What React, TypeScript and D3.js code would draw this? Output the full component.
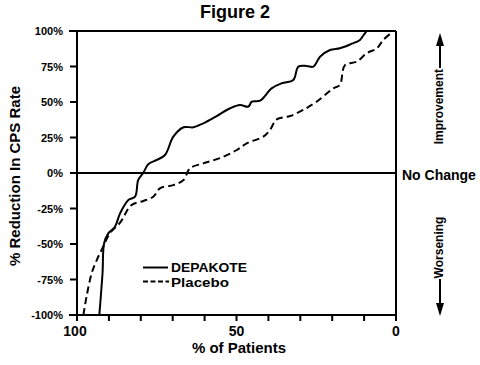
import React from "react";
import * as d3 from "d3";

// ---- Data ----
const yTicks = [100, 75, 50, 25, 0, -25, -50, -75, -100];
const xMinorTicks = [100, 90, 80, 70, 60, 50, 40, 30, 20, 10, 0];
const xLabels = [100, 50, 0];

const depakoteX = [93.0, 92.0, 91.5, 90.2, 88.1, 86.5, 83.9, 81.8, 80.8, 79.2, 77.6, 75.0, 72.4, 69.8, 66.6, 63.5, 60.4, 56.2, 52.0, 48.9, 46.3, 45.2, 42.6, 39.0, 35.8, 32.2, 30.6, 28.0, 25.9, 23.8, 20.7, 17.6, 14.4, 11.3, 10.2, 9.2];
const depakoteY = [-100, -70.6, -49.5, -42.5, -37.8, -28.4, -19, -16.7, -4.9, 0.2, 6.3, 9.2, 12.7, 25.6, 32.2, 32.2, 35, 40.1, 45.6, 47.9, 46.7, 50.2, 50.9, 59.6, 63.2, 65.5, 74.9, 75.4, 74.9, 81.9, 86.6, 87.8, 90.5, 93.7, 97, 100];

const placeboX = [98.0, 97.0, 95.4, 93.8, 91.8, 89.7, 86.5, 82.9, 79.2, 76.1, 74.0, 69.8, 66.6, 64.6, 60.4, 55.2, 49.9, 46.8, 41.6, 39.5, 37.4, 33.2, 29.1, 24.9, 19.6, 17.6, 16.0, 12.3, 9.2, 6.0, 4.0, 1.3];
const placeboY = [-100, -87, -70.6, -61.3, -51.9, -42.5, -35, -22.5, -19.7, -16.7, -10.8, -8.5, -4.9, 3.3, 6.8, 10.5, 16.2, 20.9, 25.6, 30.3, 37.8, 40.1, 44.4, 50.2, 59.6, 62, 76, 78.4, 84.3, 87.8, 93.7, 99];

const FONT = "'Liberation Sans', Arial, Helvetica, sans-serif";
const NARROW = "'Liberation Sans Narrow', 'Arial Narrow', 'Liberation Sans', Arial, sans-serif";

export default function App() {
  const W = 480, H = 365;
  const left = 77, right = 396, top = 31, bottom = 315;
  const x = d3.scaleLinear().domain([100, 0]).range([left, right]);
  const y = d3.scaleLinear().domain([-100, 100]).range([bottom, top]);

  const line = d3
    .line<[number, number]>()
    .x((d) => x(d[0]))
    .y((d) => y(d[1]))
    .curve(d3.curveCatmullRom.alpha(0.5));

  const dep: [number, number][] = depakoteX.map((v, i) => [v, depakoteY[i]]);
  const pla: [number, number][] = placeboX.map((v, i) => [v, placeboY[i]]);

  const fmt = (v: number) => `${v}%`;

  return (
    <svg
      width={W}
      height={H}
      style={{ position: "absolute", left: 0, top: 0, background: "#fff" }}
      fontFamily={FONT}
      fontWeight="bold"
    >
      <rect x={0} y={0} width={W} height={H} fill="#fff" />
      {/* Title */}
      <text x={235} y={18} fontSize={18} textAnchor="middle" fill="#000">
        Figure 2
      </text>

      {/* curves */}
      <path d={line(dep) || ""} fill="none" stroke="#000" strokeWidth={2} />
      <path d={line(pla) || ""} fill="none" stroke="#000" strokeWidth={2} strokeDasharray="7,4" />

      {/* frame */}
      <line x1={left - 8} x2={right} y1={top} y2={top} stroke="#000" strokeWidth={2} />
      <line x1={right} x2={right} y1={top} y2={bottom} stroke="#000" strokeWidth={2} />
      <line x1={left} x2={left} y1={top} y2={bottom} stroke="#000" strokeWidth={2} />
      <line x1={left - 8} x2={right + 1} y1={bottom} y2={bottom} stroke="#000" strokeWidth={2} />
      {/* zero line */}
      <line x1={left} x2={right} y1={y(0)} y2={y(0)} stroke="#000" strokeWidth={2} />

      {/* y ticks */}
      {yTicks.map((t) => (
        <g key={t}>
          <line x1={left - 7} x2={left} y1={y(t)} y2={y(t)} stroke="#000" strokeWidth={2} />
          <text x={63} y={y(t) + 4} fontSize={11} textAnchor="end" fill="#000">
            {fmt(t)}
          </text>
        </g>
      ))}

      {/* x ticks */}
      {xMinorTicks.map((t) => (
        <line key={t} x1={x(t)} x2={x(t)} y1={bottom} y2={bottom + 6} stroke="#000" strokeWidth={2} />
      ))}
      {xLabels.map((t) => (
        <text key={t} x={x(t) - (t === 100 ? 2 : 0)} y={336} fontSize={14} fontFamily={NARROW} textAnchor="middle" fill="#000">
          {t}
        </text>
      ))}
      <text x={239} y={353} fontSize={15} textAnchor="middle" fill="#000">
        % of Patients
      </text>

      {/* y axis title */}
      <text transform="translate(20,176) rotate(-90)" fontSize={15} textAnchor="middle" fill="#000">
        % Reduction In CPS Rate
      </text>

      {/* legend */}
      <line x1={143} x2={168} y1={267.5} y2={267.5} stroke="#000" strokeWidth={2} />
      <text x={171} y={272} fontSize={12} textLength={76} lengthAdjust="spacingAndGlyphs" fill="#000">DEPAKOTE</text>
      <line x1={143} x2={169} y1={281.5} y2={281.5} stroke="#000" strokeWidth={2} strokeDasharray="5,2.5" />
      <text x={171} y={286.5} fontSize={12} textLength={58} lengthAdjust="spacingAndGlyphs" fill="#000">Placebo</text>

      {/* right annotations */}
      <text x={402} y={180} fontSize={14} fill="#000">No Change</text>

      <line x1={440} x2={440} y1={44} y2={68} stroke="#000" strokeWidth={2} />
      <polygon points="440,33 436,46 444,46" fill="#000" />
      <text transform="translate(443,106.7) rotate(-90)" fontSize={12} textAnchor="middle" fill="#000">
        Improvement
      </text>

      <text transform="translate(443,247.5) rotate(-90)" fontSize={12} textAnchor="middle" fill="#000">
        Worsening
      </text>
      <line x1={440} x2={440} y1={279} y2={305} stroke="#000" strokeWidth={2} />
      <polygon points="440,316 436,303 444,303" fill="#000" />
    </svg>
  );
}
